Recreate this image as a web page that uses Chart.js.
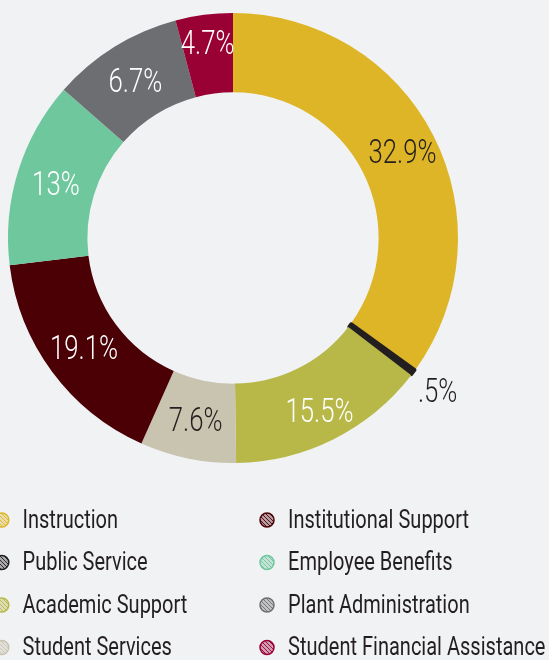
<!DOCTYPE html>
<html><head><meta charset="utf-8">
<script src="https://cdn.jsdelivr.net/npm/chart.js@4.4.1/dist/chart.umd.min.js"></script>
<style>
html,body{margin:0;padding:0;background:#f1f2f4;overflow:hidden;}
#wrap{width:549px;height:660px;position:relative;}
</style>
</head><body>
<div id="wrap"><canvas id="c"></canvas></div>
<script>
const categories = ["Instruction", "Public Service", "Academic Support", "Student Services",
  "Institutional Support", "Employee Benefits", "Plant Administration", "Student Financial Assistance"];
// arc shares as drawn in the picture
const values = [34.95, 0.5, 14.33, 6.89, 16.39, 13.39, 9.44, 4.11];
// text printed on the slices
const valueLabels = ["32.9%", ".5%", "15.5%", "7.6%", "19.1%", "13%", "6.7%", "4.7%"];
const colors = ["#ddb527", "#231f20", "#b8b848", "#c9c4b0", "#4a0005", "#6fc79e", "#6d6e71", "#990033"];
const labelColors = ["#231f20", "#231f20", "#ffffff", "#231f20", "#ffffff", "#ffffff", "#ffffff", "#ffffff"];

const FONT = 'Roboto, "Liberation Sans", sans-serif';

function condensedText(ctx, text, x, y, align, sx) {
  ctx.save();
  ctx.translate(x, y);
  ctx.scale(sx, 1);
  ctx.textAlign = align;
  ctx.fillText(text, 0, 0);
  ctx.restore();
}

const sliceLabels = {
  id: 'sliceLabels',
  afterDatasetsDraw(chart, args, opts) {
    const ctx = chart.ctx;
    const meta = chart.getDatasetMeta(0);
    ctx.save();
    ctx.font = '300 ' + opts.size + 'px ' + FONT;
    ctx.textBaseline = 'middle';
    meta.data.forEach((arc, i) => {
      const p = arc.getProps(['x','y','startAngle','endAngle','innerRadius','outerRadius'], true);
      const mid = (p.startAngle + p.endAngle) / 2;
      const r = (p.innerRadius + p.outerRadius) / 2 + (opts.radialShift[i] || 0);
      ctx.fillStyle = labelColors[i];
      condensedText(ctx, valueLabels[i], p.x + Math.cos(mid) * r, p.y + Math.sin(mid) * r + 3, 'center', opts.stretch);
    });
    ctx.restore();
  }
};

function hatch(color) {
  const c = document.createElement('canvas');
  c.width = 4; c.height = 4;
  const g = c.getContext('2d');
  g.fillStyle = '#f1f2f4';
  g.fillRect(0, 0, 4, 4);
  g.globalAlpha = 0.35;
  g.fillStyle = color;
  g.fillRect(0, 0, 4, 4);
  g.globalAlpha = 0.9;
  g.strokeStyle = color;
  g.lineWidth = 1;
  g.beginPath();
  g.moveTo(-1, -1); g.lineTo(5, 5);
  g.moveTo(3, -1); g.lineTo(5, 1);
  g.moveTo(-1, 3); g.lineTo(1, 5);
  g.stroke();
  return g.createPattern(c, 'repeat');
}

const gridLegend = {
  id: 'gridLegend',
  afterDraw(chart, args, opts) {
    const ctx = chart.ctx;
    ctx.save();
    ctx.font = opts.size + 'px ' + FONT;
    ctx.textBaseline = 'middle';
    const perCol = Math.ceil(categories.length / 2);
    categories.forEach((name, i) => {
      const col = Math.floor(i / perCol), row = i % perCol;
      const cx = opts.markerX[col], cy = opts.top + row * opts.rowGap;
      ctx.beginPath();
      ctx.arc(cx, cy, opts.markerR, 0, Math.PI * 2);
      ctx.fillStyle = hatch(colors[i]);
      ctx.fill();
      ctx.lineWidth = 1.5;
      ctx.strokeStyle = colors[i];
      ctx.stroke();
      ctx.fillStyle = '#231f20';
      condensedText(ctx, name, opts.textX[col], cy + 1, 'left', opts.stretch);
    });
    ctx.restore();
  }
};

new Chart(document.getElementById('c'), {
  type: 'doughnut',
  data: {
    labels: categories,
    datasets: [{
      data: values,
      backgroundColor: colors,
      borderColor: colors,
      borderWidth: [0, 2.5, 0, 0, 0, 0, 0, 0],
      hoverOffset: 0
    }]
  },
  options: {
    responsive: true,
    maintainAspectRatio: false,
    animation: false,
    radius: 225,
    cutout: 150,
    layout: { padding: { left: 0, right: 83, top: 0, bottom: 184 } },
    plugins: {
      legend: { display: false },
      tooltip: { enabled: false },
      sliceLabels: { size: 33, stretch: 0.78, radialShift: [5, 70, 8, 0, 0, 0, 0, 12] },
      gridLegend: { size: 26, stretch: 0.77, top: 520, rowGap: 42.5, markerX: [1.8, 267], textX: [22.5, 288], markerR: 7 }
    }
  },
  plugins: [sliceLabels, gridLegend]
});
</script>
</body></html>
